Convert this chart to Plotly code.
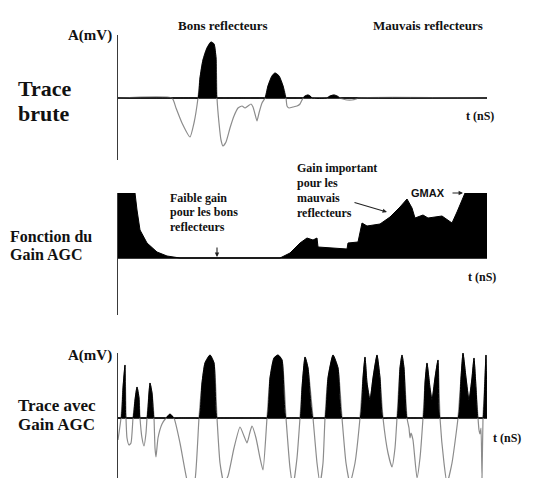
import numpy as np
import plotly.graph_objects as go

# ---- data (time in ns, arbitrary units; amplitude arbitrary) ----
t_raw = [0, 54, 58, 64, 72, 76, 80, 82, 85, 89, 93, 96, 98, 99, 101, 103, 105, 108, 112, 116, 120, 124,
         127, 130, 133, 135, 137, 139, 141, 144, 147, 150, 154, 157, 161, 165, 168, 169, 171, 175, 179,
         182, 184, 185, 187, 190, 192, 194, 209, 212, 216, 219, 222, 225, 229, 234, 238, 240, 369]
a_raw = [0, 0, -10, -25, -39, -25, 0, 20, 38, 50, 56, 54, 40, 0, -25, -42, -48, -44, -30, -18, -10, -8,
         -10, -8, -6, -9, -16, -23, -15, -5, 0, 12, 22, 25, 22, 12, 0, -8, -10, -9, -8,
         -6, -2, 0, 2, 3, 2, 0, 0, 2, 3, 2, 0, -1, -2, -2, -1, 0, 0]

t_gain = [0, 17, 19, 22, 29, 39, 49, 62, 162, 172, 182, 189, 195, 199, 200, 215, 229, 230, 240, 244,
          249, 262, 272, 282, 289, 294, 297, 305, 310, 324, 334, 339, 347, 369]
g_gain = [65, 65, 48, 28, 15, 6, 2, 0, 0, 5, 15, 20, 18, 20, 11, 10, 9, 15, 16, 35,
          32, 34, 41, 51, 59, 50, 40, 43, 40, 42, 35, 46, 65, 65]

t_agc = [0, 3, 5, 7, 8, 9, 11, 13, 15, 17, 19, 21, 22, 24, 26, 28, 29, 31, 32, 34, 36, 37, 38, 40, 44,
         48, 52, 56, 62, 69, 73, 77, 81, 84, 87, 92, 96, 99, 102, 106, 110, 116, 122, 126, 129, 132,
         134, 138, 142, 145, 149, 152, 156, 160, 164, 168, 172, 175, 179, 182, 184, 187, 190, 195,
         199, 202, 205, 207, 210, 215, 220, 224, 228, 232, 237, 242, 245, 247, 249, 252, 255, 259,
         262, 265, 270, 274, 277, 279, 282, 284, 286, 289, 291, 292, 293, 295, 299, 302, 305, 307,
         309, 312, 314, 317, 320, 322, 326, 329, 334, 340, 343, 345, 348, 351, 354, 356, 358, 360,
         361, 362, 363, 364, 365, 367, 368, 369]
a_agc = [-22, 0, 30, 53, 0, -20, -27, -25, 0, 18, 31, 20, 0, -20, -28, -15, 0, 25, 35, 25, 0, -30, -39, -20, -6,
         0, 4, 0, -25, -62, -72, -62, 0, 35, 55, 63, 55, 0, -45, -65, -58, -30, -9, -18, -25, -14,
         -8, -20, -40, -52, 0, 40, 60, 63, 58, 0, -50, -68, -40, 0, 30, 61, 50, 0,
         -45, -65, -45, 0, 40, 63, 50, 0, -45, -65, -45, 0, 40, 61, 35, 18, 40, 63,
         40, 0, -35, -49, -30, 0, 50, 63, 50, 0, -10, -20, -15, -22, -60, -40, 0, 35,
         55, 30, 18, 40, 58, 0, -45, -65, -45, 0, 40, 65, 40, 18, 40, 60, 30, 0,
         -12, -16, -10, -60, 0, 40, 63, 0]

W, H = 544, 478
def px(x): return x / W
def py(y): return 1 - y / H

GRAY = "#8c8c8c"
AXC = "#3a3a3a"
SERIF = "Liberation Serif, Times New Roman, serif"

fig = go.Figure()

def add_wave(t, a, xa, ya):
    a = np.array(a, dtype=float)
    fig.add_trace(go.Scatter(x=t, y=a, mode="lines", line=dict(color=GRAY, width=1.2, shape="spline", smoothing=0.5),
                             xaxis=xa, yaxis=ya, hoverinfo="skip", showlegend=False))
    fig.add_trace(go.Scatter(x=t, y=np.maximum(a, 0), mode="lines", fill="tozeroy", fillcolor="black",
                             line=dict(color="black", width=1, shape="spline", smoothing=0.5),
                             xaxis=xa, yaxis=ya, hoverinfo="skip", showlegend=False))

add_wave(t_raw, a_raw, "x", "y")
fig.add_trace(go.Scatter(x=t_gain, y=g_gain, mode="lines", fill="tozeroy", fillcolor="black",
                         line=dict(color="black", width=1), xaxis="x2", yaxis="y2",
                         hoverinfo="skip", showlegend=False))
add_wave(t_agc, a_agc, "x3", "y3")

xdom = [px(118), px(487)]
xcommon = dict(domain=xdom, range=[0, 369], visible=False, fixedrange=True)
def ycommon(top, bottom, rng):
    return dict(domain=[py(bottom), py(top)], range=rng, showline=True, linecolor=AXC, linewidth=1.3,
                zeroline=True, zerolinecolor=AXC, zerolinewidth=1.5, showgrid=False,
                showticklabels=False, ticks="", fixedrange=True)

fig.update_layout(
    width=W, height=H, margin=dict(l=0, r=0, t=0, b=0),
    paper_bgcolor="white", plot_bgcolor="white",
    xaxis=dict(**xcommon, anchor="y"),
    xaxis2=dict(**xcommon, anchor="y2"),
    xaxis3=dict(**xcommon, anchor="y3"),
    yaxis=dict(**ycommon(35, 160, [-62, 63]), anchor="x"),
    yaxis2=dict(**ycommon(193, 315, [-57, 65]), anchor="x2"),
    yaxis3=dict(**ycommon(353, 478, [-60, 65]), anchor="x3"),
)

texts = [
    ("Bons reflecteurs", 223, 25, 13, "center", SERIF),
    ("Mauvais reflecteurs", 428, 25, 13, "center", SERIF),
    ("A(mV)", 114, 36, 15, "right", SERIF),
    ("Trace", 16, 88, 22, "left", SERIF),
    ("brute", 16, 113, 22, "left", SERIF),
    ("t (nS)", 464, 116, 12, "left", SERIF),
    ("Fonction du", 8, 236, 16, "left", SERIF),
    ("Gain AGC", 8, 254, 16, "left", SERIF),
    ("Faible gain", 168, 198, 12, "left", SERIF),
    ("pour les bons", 168, 212, 12, "left", SERIF),
    ("reflecteurs", 168, 227, 12, "left", SERIF),
    ("Gain important", 295, 168, 12, "left", SERIF),
    ("pour les", 295, 183, 12, "left", SERIF),
    ("mauvais", 295, 198, 12, "left", SERIF),
    ("reflecteurs", 295, 213, 12, "left", SERIF),
    ("GMAX", 409, 193, 11, "left", "Liberation Sans, Arial, sans-serif"),
    ("t (nS)", 466, 277, 12, "left", SERIF),
    ("A(mV)", 114, 355, 15, "right", SERIF),
    ("Trace avec", 16, 405, 17, "left", SERIF),
    ("Gain AGC", 16, 424, 17, "left", SERIF),
    ("t (nS)", 491, 438, 12, "left", SERIF),
]
for txt, x, y, s, anc, fam in texts:
    fig.add_annotation(text=f"<b>{txt}</b>", x=px(x), y=py(y), xref="paper", yref="paper",
                       xanchor=anc, yanchor="middle", showarrow=False,
                       font=dict(family=fam, size=s, color="#111"))

arrows = [((217, 257), (0, -11)), ((387, 212), (-34, -10)), ((463, 193), (-12, 0))]
for (hx, hy), (ax, ay) in arrows:
    fig.add_annotation(text="", x=px(hx), y=py(hy), xref="paper", yref="paper", ax=ax, ay=ay,
                       axref="pixel", ayref="pixel", showarrow=True, arrowhead=2, arrowsize=0.8,
                       arrowwidth=1.1, arrowcolor="#222")

fig.write_html("out.html")
